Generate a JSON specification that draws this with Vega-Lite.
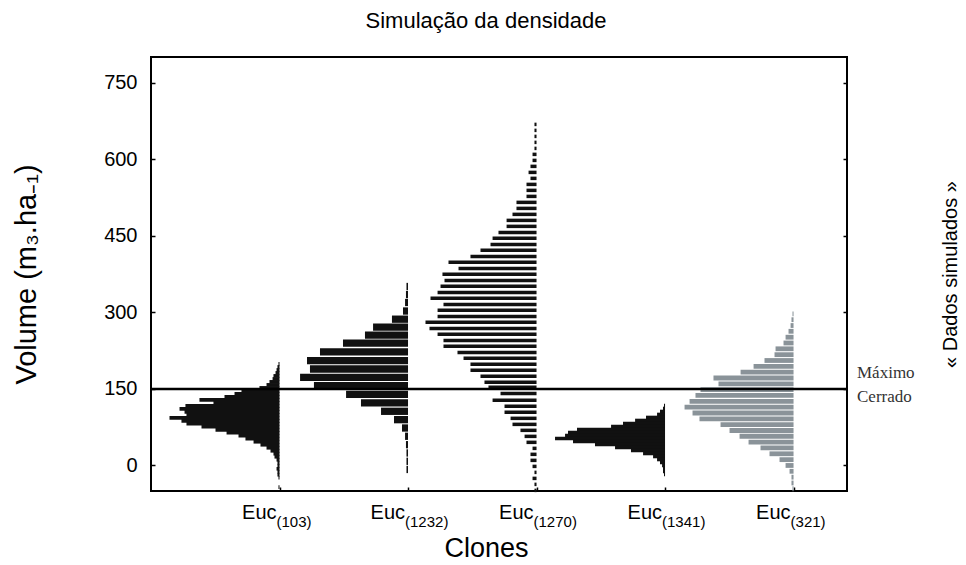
{
  "$schema": "https://vega.github.io/schema/vega-lite/v6.json",
  "width": 696,
  "height": 434,
  "autosize": {"type": "none"},
  "padding": {"left": 151, "top": 57, "right": 119, "bottom": 74},
  "background": "white",
  "title": {"text": "Simulação da densidade", "font": "Liberation Sans", "fontSize": 22, "fontWeight": "normal", "color": "black", "offset": 24, "dx": -13},
  "config": {"view": {"stroke": "black", "strokeWidth": 2}, "font": "Liberation Sans"},
  "datasets": {
    "bars": [
      {"c": "103", "p": 1, "v": 199.0, "lo": 0.992}, {"c": "103", "p": 1, "v": 193.1, "lo": 0.984}, {"c": "103", "p": 1, "v": 187.2, "lo": 0.977}, {"c": "103", "p": 1, "v": 181.4, "lo": 0.969},
      {"c": "103", "p": 1, "v": 175.5, "lo": 0.953}, {"c": "103", "p": 1, "v": 169.6, "lo": 0.946}, {"c": "103", "p": 1, "v": 163.8, "lo": 0.922}, {"c": "103", "p": 1, "v": 157.9, "lo": 0.899},
      {"c": "103", "p": 1, "v": 152.0, "lo": 0.844}, {"c": "103", "p": 1, "v": 146.1, "lo": 0.704}, {"c": "103", "p": 1, "v": 140.3, "lo": 0.650}, {"c": "103", "p": 1, "v": 134.4, "lo": 0.572},
      {"c": "103", "p": 1, "v": 128.5, "lo": 0.377}, {"c": "103", "p": 1, "v": 122.7, "lo": 0.486}, {"c": "103", "p": 1, "v": 116.8, "lo": 0.268}, {"c": "103", "p": 1, "v": 110.9, "lo": 0.222},
      {"c": "103", "p": 1, "v": 105.0, "lo": 0.261}, {"c": "103", "p": 1, "v": 99.2, "lo": 0.276}, {"c": "103", "p": 1, "v": 93.3, "lo": 0.144}, {"c": "103", "p": 1, "v": 87.4, "lo": 0.237},
      {"c": "103", "p": 1, "v": 81.6, "lo": 0.276}, {"c": "103", "p": 1, "v": 75.7, "lo": 0.393}, {"c": "103", "p": 1, "v": 69.8, "lo": 0.502}, {"c": "103", "p": 1, "v": 64.0, "lo": 0.588},
      {"c": "103", "p": 1, "v": 58.1, "lo": 0.681}, {"c": "103", "p": 1, "v": 52.2, "lo": 0.735}, {"c": "103", "p": 1, "v": 46.4, "lo": 0.798}, {"c": "103", "p": 1, "v": 40.5, "lo": 0.852},
      {"c": "103", "p": 1, "v": 34.6, "lo": 0.899}, {"c": "103", "p": 1, "v": 28.7, "lo": 0.930}, {"c": "103", "p": 1, "v": 22.9, "lo": 0.953}, {"c": "103", "p": 1, "v": 17.0, "lo": 0.961},
      {"c": "103", "p": 1, "v": 11.1, "lo": 0.977}, {"c": "103", "p": 1, "v": 5.3, "lo": 0.984}, {"c": "103", "p": 1, "v": -0.6, "lo": 0.984}, {"c": "103", "p": 1, "v": -6.5, "lo": 0.977},
      {"c": "103", "p": 1, "v": -12.3, "lo": 0.984}, {"c": "103", "p": 1, "v": -18.2, "lo": 0.984}, {"c": "103", "p": 1, "v": -24.1, "lo": 0.992}, {"c": "103", "p": 1, "v": -42.5, "lo": 0.992},

      {"c": "1232", "p": 2, "v": 350.5, "lo": 1.988}, {"c": "1232", "p": 2, "v": 334.8, "lo": 1.984}, {"c": "1232", "p": 2, "v": 319.2, "lo": 1.977}, {"c": "1232", "p": 2, "v": 302.5, "lo": 1.961},
      {"c": "1232", "p": 2, "v": 286.5, "lo": 1.875}, {"c": "1232", "p": 2, "v": 270.8, "lo": 1.728}, {"c": "1232", "p": 2, "v": 255.1, "lo": 1.665}, {"c": "1232", "p": 2, "v": 239.5, "lo": 1.494},
      {"c": "1232", "p": 2, "v": 222.6, "lo": 1.315}, {"c": "1232", "p": 2, "v": 205.2, "lo": 1.214}, {"c": "1232", "p": 2, "v": 188.9, "lo": 1.237}, {"c": "1232", "p": 2, "v": 172.7, "lo": 1.160},
      {"c": "1232", "p": 2, "v": 156.2, "lo": 1.268}, {"c": "1232", "p": 2, "v": 139.4, "lo": 1.518}, {"c": "1232", "p": 2, "v": 122.4, "lo": 1.634}, {"c": "1232", "p": 2, "v": 106.1, "lo": 1.790},
      {"c": "1232", "p": 2, "v": 89.7, "lo": 1.891}, {"c": "1232", "p": 2, "v": 73.4, "lo": 1.953}, {"c": "1232", "p": 2, "v": 57.2, "lo": 1.977}, {"c": "1232", "p": 2, "v": 40.7, "lo": 1.984},
      {"c": "1232", "p": 2, "v": 24.5, "lo": 1.988}, {"c": "1232", "p": 2, "v": 8.2, "lo": 1.988}, {"c": "1232", "p": 2, "v": -7.8, "lo": 1.988},

      {"c": "1270", "p": 3, "v": 668.0, "lo": 2.984}, {"c": "1270", "p": 3, "v": 656.3, "lo": 2.984}, {"c": "1270", "p": 3, "v": 644.5, "lo": 2.984}, {"c": "1270", "p": 3, "v": 632.8, "lo": 2.984},
      {"c": "1270", "p": 3, "v": 621.0, "lo": 2.984}, {"c": "1270", "p": 3, "v": 609.3, "lo": 2.969}, {"c": "1270", "p": 3, "v": 597.5, "lo": 2.969}, {"c": "1270", "p": 3, "v": 585.8, "lo": 2.953},
      {"c": "1270", "p": 3, "v": 574.0, "lo": 2.938}, {"c": "1270", "p": 3, "v": 562.3, "lo": 2.953}, {"c": "1270", "p": 3, "v": 550.5, "lo": 2.922}, {"c": "1270", "p": 3, "v": 538.8, "lo": 2.922},
      {"c": "1270", "p": 3, "v": 527.0, "lo": 2.922}, {"c": "1270", "p": 3, "v": 515.3, "lo": 2.844}, {"c": "1270", "p": 3, "v": 503.5, "lo": 2.844}, {"c": "1270", "p": 3, "v": 491.8, "lo": 2.813},
      {"c": "1270", "p": 3, "v": 480.0, "lo": 2.767}, {"c": "1270", "p": 3, "v": 468.3, "lo": 2.767}, {"c": "1270", "p": 3, "v": 456.5, "lo": 2.704}, {"c": "1270", "p": 3, "v": 444.8, "lo": 2.658},
      {"c": "1270", "p": 3, "v": 433.0, "lo": 2.642}, {"c": "1270", "p": 3, "v": 421.3, "lo": 2.564}, {"c": "1270", "p": 3, "v": 409.5, "lo": 2.486}, {"c": "1270", "p": 3, "v": 397.8, "lo": 2.315},
      {"c": "1270", "p": 3, "v": 386.0, "lo": 2.393}, {"c": "1270", "p": 3, "v": 374.3, "lo": 2.268}, {"c": "1270", "p": 3, "v": 362.5, "lo": 2.284}, {"c": "1270", "p": 3, "v": 350.8, "lo": 2.253},
      {"c": "1270", "p": 3, "v": 339.0, "lo": 2.230}, {"c": "1270", "p": 3, "v": 327.3, "lo": 2.175}, {"c": "1270", "p": 3, "v": 315.5, "lo": 2.276}, {"c": "1270", "p": 3, "v": 303.8, "lo": 2.230},
      {"c": "1270", "p": 3, "v": 292.0, "lo": 2.230}, {"c": "1270", "p": 3, "v": 280.3, "lo": 2.136}, {"c": "1270", "p": 3, "v": 268.5, "lo": 2.167}, {"c": "1270", "p": 3, "v": 256.8, "lo": 2.230},
      {"c": "1270", "p": 3, "v": 245.0, "lo": 2.276}, {"c": "1270", "p": 3, "v": 233.3, "lo": 2.276}, {"c": "1270", "p": 3, "v": 221.5, "lo": 2.385}, {"c": "1270", "p": 3, "v": 209.8, "lo": 2.432},
      {"c": "1270", "p": 3, "v": 198.0, "lo": 2.486}, {"c": "1270", "p": 3, "v": 186.3, "lo": 2.486}, {"c": "1270", "p": 3, "v": 174.5, "lo": 2.564}, {"c": "1270", "p": 3, "v": 162.8, "lo": 2.595},
      {"c": "1270", "p": 3, "v": 153.0, "lo": 2.626}, {"c": "1270", "p": 3, "v": 141.0, "lo": 2.720}, {"c": "1270", "p": 3, "v": 127.5, "lo": 2.658}, {"c": "1270", "p": 3, "v": 115.8, "lo": 2.751},
      {"c": "1270", "p": 3, "v": 104.0, "lo": 2.751}, {"c": "1270", "p": 3, "v": 92.3, "lo": 2.798}, {"c": "1270", "p": 3, "v": 80.5, "lo": 2.813}, {"c": "1270", "p": 3, "v": 68.8, "lo": 2.875},
      {"c": "1270", "p": 3, "v": 57.0, "lo": 2.907}, {"c": "1270", "p": 3, "v": 45.3, "lo": 2.922}, {"c": "1270", "p": 3, "v": 33.5, "lo": 2.969}, {"c": "1270", "p": 3, "v": 21.8, "lo": 2.953},
      {"c": "1270", "p": 3, "v": 10.0, "lo": 2.953}, {"c": "1270", "p": 3, "v": -1.8, "lo": 2.969}, {"c": "1270", "p": 3, "v": -13.5, "lo": 2.984}, {"c": "1270", "p": 3, "v": -25.3, "lo": 2.969},
      {"c": "1270", "p": 3, "v": -37.0, "lo": 2.984}, {"c": "1270", "p": 3, "v": -48.8, "lo": 2.984},

      {"c": "1341", "p": 4, "v": 117.5, "lo": 3.992}, {"c": "1341", "p": 4, "v": 111.6, "lo": 3.984}, {"c": "1341", "p": 4, "v": 105.7, "lo": 3.961}, {"c": "1341", "p": 4, "v": 99.9, "lo": 3.938},
      {"c": "1341", "p": 4, "v": 94.0, "lo": 3.852}, {"c": "1341", "p": 4, "v": 88.1, "lo": 3.767}, {"c": "1341", "p": 4, "v": 82.2, "lo": 3.673}, {"c": "1341", "p": 4, "v": 76.4, "lo": 3.580},
      {"c": "1341", "p": 4, "v": 70.5, "lo": 3.315}, {"c": "1341", "p": 4, "v": 64.6, "lo": 3.245}, {"c": "1341", "p": 4, "v": 58.7, "lo": 3.222}, {"c": "1341", "p": 4, "v": 52.9, "lo": 3.144},
      {"c": "1341", "p": 4, "v": 47.0, "lo": 3.284}, {"c": "1341", "p": 4, "v": 41.1, "lo": 3.455}, {"c": "1341", "p": 4, "v": 35.2, "lo": 3.611}, {"c": "1341", "p": 4, "v": 29.4, "lo": 3.735},
      {"c": "1341", "p": 4, "v": 23.5, "lo": 3.829}, {"c": "1341", "p": 4, "v": 17.6, "lo": 3.907}, {"c": "1341", "p": 4, "v": 11.7, "lo": 3.938}, {"c": "1341", "p": 4, "v": 5.9, "lo": 3.961},
      {"c": "1341", "p": 4, "v": 0.0, "lo": 3.977}, {"c": "1341", "p": 4, "v": -5.9, "lo": 3.984}, {"c": "1341", "p": 4, "v": -11.7, "lo": 3.984}, {"c": "1341", "p": 4, "v": -17.6, "lo": 3.992},

      {"c": "321", "p": 5, "v": 297.0, "lo": 4.992}, {"c": "321", "p": 5, "v": 285.5, "lo": 4.984}, {"c": "321", "p": 5, "v": 274.1, "lo": 4.977}, {"c": "321", "p": 5, "v": 262.8, "lo": 4.961},
      {"c": "321", "p": 5, "v": 251.2, "lo": 4.938}, {"c": "321", "p": 5, "v": 239.9, "lo": 4.922}, {"c": "321", "p": 5, "v": 228.5, "lo": 4.860}, {"c": "321", "p": 5, "v": 217.0, "lo": 4.852},
      {"c": "321", "p": 5, "v": 205.6, "lo": 4.774}, {"c": "321", "p": 5, "v": 194.2, "lo": 4.689}, {"c": "321", "p": 5, "v": 182.7, "lo": 4.588}, {"c": "321", "p": 5, "v": 171.3, "lo": 4.377},
      {"c": "321", "p": 5, "v": 160.0, "lo": 4.416}, {"c": "321", "p": 5, "v": 148.4, "lo": 4.276}, {"c": "321", "p": 5, "v": 137.1, "lo": 4.237}, {"c": "321", "p": 5, "v": 125.7, "lo": 4.191},
      {"c": "321", "p": 5, "v": 114.2, "lo": 4.152}, {"c": "321", "p": 5, "v": 102.8, "lo": 4.214}, {"c": "321", "p": 5, "v": 91.4, "lo": 4.268}, {"c": "321", "p": 5, "v": 79.9, "lo": 4.432},
      {"c": "321", "p": 5, "v": 68.5, "lo": 4.502}, {"c": "321", "p": 5, "v": 57.2, "lo": 4.580}, {"c": "321", "p": 5, "v": 45.6, "lo": 4.650}, {"c": "321", "p": 5, "v": 34.3, "lo": 4.743},
      {"c": "321", "p": 5, "v": 22.9, "lo": 4.813}, {"c": "321", "p": 5, "v": 11.4, "lo": 4.891}, {"c": "321", "p": 5, "v": 0.0, "lo": 4.938}, {"c": "321", "p": 5, "v": -11.4, "lo": 4.969},
      {"c": "321", "p": 5, "v": -22.9, "lo": 4.984}, {"c": "321", "p": 5, "v": -34.3, "lo": 4.984}, {"c": "321", "p": 5, "v": -45.6, "lo": 4.992}
    ],
    "clones": [
      {"p": 1, "name": "Euc", "sub": "(103)"},
      {"p": 2, "name": "Euc", "sub": "(1232)"},
      {"p": 3, "name": "Euc", "sub": "(1270)"},
      {"p": 4, "name": "Euc", "sub": "(1341)"},
      {"p": 5, "name": "Euc", "sub": "(321)"}
    ],
    "limit": [{"v": 150, "label": "Máximo\nCerrado"}]
  },
  "resolve": {"axis": {"x": "independent", "y": "independent"}},
  "layer": [
    {
      "data": {"name": "bars"},
      "transform": [{"filter": "datum.c === '103' || datum.c === '1341'"}],
      "mark": {"type": "rule", "color": "#111111", "strokeWidth": 3.6},
      "encoding": {
        "x": {"field": "lo", "type": "quantitative", "scale": {"domain": [0, 5.416], "nice": false, "zero": false},
          "axis": {"orient": "bottom", "values": [1, 2, 3, 4, 5], "labels": false, "domain": false, "ticks": true, "tickSize": -4, "tickWidth": 1.5, "tickColor": "black", "grid": false,
            "title": "Clones", "titleFont": "Liberation Sans", "titleFontSize": 27, "titleFontWeight": "normal", "titleColor": "black", "titlePadding": 44, "titleX": 335}},
        "x2": {"field": "p"},
        "y": {"field": "v", "type": "quantitative", "scale": {"domain": [-50, 800], "nice": false, "zero": false},
          "axis": {"orient": "left", "values": [0, 150, 300, 450, 600, 750], "domain": false, "grid": false, "tickSize": -4, "tickWidth": 1.5, "tickColor": "black",
            "labelFont": "Liberation Sans", "labelFontSize": 20, "labelColor": "black", "labelPadding": 18,
            "title": "Volume (m₃.ha₋₁)", "titleFont": "Liberation Sans", "titleFontSize": 29, "titleFontWeight": "normal", "titleColor": "black", "titlePadding": 62}}
      }
    },
    {
      "data": {"name": "bars"},
      "transform": [{"filter": "datum.c === '1232'"}],
      "mark": {"type": "rule", "color": "#111111", "strokeWidth": 7.3},
      "encoding": {
        "x": {"field": "lo", "type": "quantitative", "axis": null},
        "x2": {"field": "p"},
        "y": {"field": "v", "type": "quantitative", "axis": null}
      }
    },
    {
      "data": {"name": "bars"},
      "transform": [{"filter": "datum.c === '1270'"}],
      "mark": {"type": "rule", "color": "#111111", "strokeWidth": 3.5},
      "encoding": {
        "x": {"field": "lo", "type": "quantitative", "axis": null},
        "x2": {"field": "p"},
        "y": {"field": "v", "type": "quantitative", "axis": null}
      }
    },
    {
      "data": {"name": "bars"},
      "transform": [{"filter": "datum.c === '321'"}],
      "mark": {"type": "rule", "color": "#8a9399", "strokeWidth": 4.8},
      "encoding": {
        "x": {"field": "lo", "type": "quantitative", "axis": null},
        "x2": {"field": "p"},
        "y": {"field": "v", "type": "quantitative",
          "axis": {"orient": "right", "values": [0, 150, 300, 450, 600, 750], "labels": false, "domain": false, "grid": false, "tickSize": -4, "tickWidth": 1.5, "tickColor": "black",
            "title": "« Dados simulados »", "titleFont": "Liberation Sans", "titleFontSize": 20, "titleFontWeight": "normal", "titleColor": "black", "titleAngle": 270, "titlePadding": 113}}
      }
    },
    {
      "data": {"name": "limit"},
      "mark": {"type": "rule", "color": "black", "strokeWidth": 2.5},
      "encoding": {
        "y": {"field": "v", "type": "quantitative", "axis": null}
      }
    },
    {
      "data": {"name": "limit"},
      "mark": {"type": "text", "align": "left", "baseline": "middle", "lineBreak": "\n", "lineHeight": 24, "font": "Liberation Serif", "fontSize": 17, "color": "#333333", "dx": 10, "dy": -16},
      "encoding": {
        "x": {"datum": 5.416, "type": "quantitative", "axis": null},
        "y": {"field": "v", "type": "quantitative", "axis": null},
        "text": {"field": "label"}
      }
    },
    {
      "data": {"name": "clones"},
      "mark": {"type": "text", "align": "right", "baseline": "alphabetic", "font": "Liberation Sans", "fontSize": 20, "color": "black", "dx": -3, "dy": 28},
      "encoding": {
        "x": {"field": "p", "type": "quantitative", "axis": null},
        "y": {"datum": -50, "type": "quantitative", "axis": null},
        "text": {"field": "name"}
      }
    },
    {
      "data": {"name": "clones"},
      "mark": {"type": "text", "align": "left", "baseline": "alphabetic", "font": "Liberation Sans", "fontSize": 15, "color": "black", "dx": -3, "dy": 36},
      "encoding": {
        "x": {"field": "p", "type": "quantitative", "axis": null},
        "y": {"datum": -50, "type": "quantitative", "axis": null},
        "text": {"field": "sub"}
      }
    }
  ]
}
